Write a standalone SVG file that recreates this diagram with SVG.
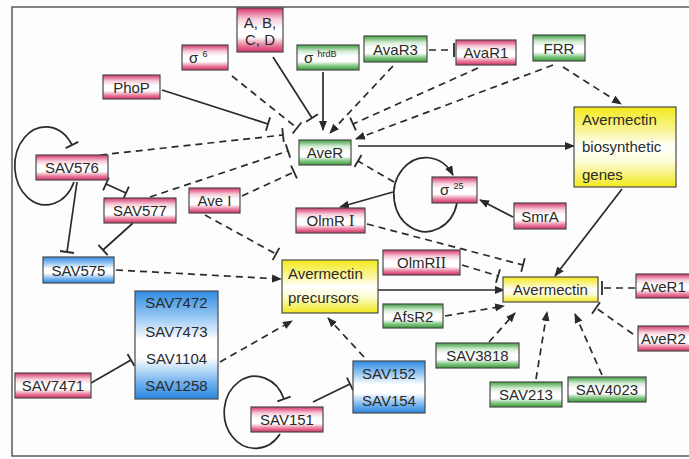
<svg xmlns="http://www.w3.org/2000/svg" width="689" height="459" viewBox="0 0 689 459">
  <defs>
    <linearGradient id="gR" x1="0" y1="0" x2="0" y2="1">
      <stop offset="0" stop-color="#d6336a"/>
      <stop offset="0.25" stop-color="#f6cdd9"/>
      <stop offset="0.45" stop-color="#ffffff"/>
      <stop offset="0.66" stop-color="#ffffff"/>
      <stop offset="0.84" stop-color="#e8829f"/>
      <stop offset="1" stop-color="#d22d63"/>
    </linearGradient>
    <linearGradient id="gG" x1="0" y1="0" x2="0" y2="1">
      <stop offset="0" stop-color="#3f9f3f"/>
      <stop offset="0.25" stop-color="#d3ebd3"/>
      <stop offset="0.45" stop-color="#ffffff"/>
      <stop offset="0.66" stop-color="#ffffff"/>
      <stop offset="0.84" stop-color="#80c580"/>
      <stop offset="1" stop-color="#379a37"/>
    </linearGradient>
    <linearGradient id="gB" x1="0" y1="0" x2="0" y2="1">
      <stop offset="0" stop-color="#2d8ae2"/>
      <stop offset="0.25" stop-color="#9ccaf3"/>
      <stop offset="0.45" stop-color="#ffffff"/>
      <stop offset="0.62" stop-color="#ffffff"/>
      <stop offset="0.85" stop-color="#6fb1ee"/>
      <stop offset="1" stop-color="#2a86df"/>
    </linearGradient>
    <linearGradient id="gY" x1="0" y1="0" x2="0" y2="1">
      <stop offset="0" stop-color="#f3ea1a"/>
      <stop offset="0.3" stop-color="#faf59a"/>
      <stop offset="0.5" stop-color="#ffffff"/>
      <stop offset="0.7" stop-color="#fdfbd0"/>
      <stop offset="1" stop-color="#f1e81c"/>
    </linearGradient>
    <marker id="arrow" markerUnits="userSpaceOnUse" markerWidth="10" markerHeight="10" viewBox="0 0 10 10" refX="9" refY="5" orient="auto">
      <path d="M0,1 L10,5 L0,9 z" fill="#2a2a2a"/>
    </marker>
    <marker id="bar" markerUnits="userSpaceOnUse" markerWidth="4" markerHeight="16" viewBox="-2 -8 4 16" refX="0" refY="0" orient="auto">
      <path d="M0,-7 L0,7" stroke="#2a2a2a" stroke-width="1.8" fill="none"/>
    </marker>
    <style>
      .box { stroke: #4a4a4a; stroke-width: 1.2; }
      .r { fill: url(#gR); }
      .g { fill: url(#gG); }
      .b { fill: url(#gB); }
      .y { fill: url(#gY); }
      text { font-family: "Liberation Sans", Arial, sans-serif; font-size: 15px; fill: #2a2a2a; }
      .c { text-anchor: middle; }
      .sup { font-size: 9px; }
      .rn { font-family: "Liberation Serif", "Times New Roman", serif; font-size: 16px; }
      .ln { fill: none; stroke: #2a2a2a; stroke-width: 1.7; }
      .d { stroke-dasharray: 7 5; }
      .act { marker-end: url(#arrow); }
      .inh { marker-end: url(#bar); }
    </style>
  </defs>

  <rect x="0" y="0" width="689" height="459" fill="#fdfdfd"/>
  <!-- outer frame -->
  <rect x="12" y="7" width="700" height="449" fill="none" stroke="#5a5a5a" stroke-width="1.5"/>

  <!-- connectors -->
  <g id="connectors">
    <!-- regulators of AveR -->
    <line class="ln inh" x1="162" y1="90" x2="268" y2="124"/>
    <line class="ln d inh" x1="232" y1="76" x2="297" y2="128"/>
    <line class="ln inh" x1="273" y1="57" x2="312" y2="118"/>
    <line class="ln act" x1="323" y1="72" x2="323" y2="130"/>
    <line class="ln d act" x1="393" y1="66" x2="330" y2="133"/>
    <line class="ln d inh" x1="429" y1="50" x2="454" y2="50"/>
    <line class="ln d inh" x1="478" y1="68" x2="353" y2="124"/>
    <line class="ln d act" x1="553" y1="65" x2="356" y2="139"/>
    <line class="ln d act" x1="563" y1="67" x2="621" y2="104"/>
    <line class="ln d inh" x1="100" y1="155" x2="283" y2="135"/>
    <line class="ln d inh" x1="150" y1="197" x2="288" y2="151"/>
    <line class="ln d inh" x1="242" y1="196" x2="294" y2="172"/>
    <line class="ln act" x1="358" y1="146" x2="574" y2="146"/>

    <!-- sigma 25 loop and targets -->
    <path class="ln act" d="M457,203 A32 37 0 1 1 453,175"/>
    <line class="ln d inh" x1="394" y1="182" x2="358" y2="161"/>
    <line class="ln act" x1="393" y1="192" x2="340" y2="207"/>
    <line class="ln act" x1="513" y1="217" x2="480" y2="200"/>

    <!-- regulators of avermectin -->
    <line class="ln d inh" x1="367" y1="224" x2="523" y2="265"/>
    <line class="ln d inh" x1="462" y1="265" x2="498" y2="276"/>
    <line class="ln act" x1="622" y1="189" x2="555" y2="276"/>
    <line class="ln act" x1="378" y1="290" x2="504" y2="290"/>
    <line class="ln d act" x1="445" y1="316" x2="504" y2="306"/>
    <line class="ln d act" x1="489" y1="342" x2="515" y2="313"/>
    <line class="ln d act" x1="536" y1="379" x2="547" y2="312"/>
    <line class="ln d act" x1="602" y1="375" x2="575" y2="314"/>
    <line class="ln d inh" x1="633" y1="334" x2="596" y2="308"/>
    <line class="ln d inh" x1="635" y1="288" x2="602" y2="288"/>

    <!-- SAV576 / SAV577 / SAV575 module -->
    <path class="ln inh" d="M74,182 A31 39 0 1 1 72,145"/>
    <line class="ln" x1="106" y1="184" x2="126" y2="193" marker-start="url(#bar)" marker-end="url(#bar)"/>
    <line class="ln inh" x1="77" y1="182" x2="67" y2="252"/>
    <line class="ln inh" x1="133" y1="223" x2="103" y2="250"/>

    <!-- precursor regulators -->
    <line class="ln d act" x1="116" y1="270" x2="281" y2="279"/>
    <line class="ln d inh" x1="205" y1="215" x2="276" y2="254"/>
    <line class="ln inh" x1="91" y1="383" x2="131" y2="360"/>
    <line class="ln d act" x1="220" y1="362" x2="292" y2="321"/>
    <line class="ln d act" x1="364" y1="357" x2="328" y2="318"/>
    <line class="ln inh" x1="313" y1="402" x2="350" y2="384"/>
    <path class="ln inh" d="M280,434 A31 36 0 1 1 284,399"/>
  </g>

  <!-- nodes -->
  <g id="ABCD"><rect class="box r" x="237" y="8" width="46" height="44"/><text class="c" x="260" y="28">A, B,</text><text class="c" x="260" y="45">C, D</text></g>
  <g id="sigma6"><rect class="box r" x="182" y="45" width="46" height="25"/><text x="189" y="63">σ <tspan class="sup" dy="-6">6</tspan></text></g>
  <g id="PhoP"><rect class="box r" x="103" y="75" width="57" height="24"/><text class="c" x="131.5" y="92.5">PhoP</text></g>
  <g id="sigmaHrdB"><rect class="box g" x="297" y="45" width="62" height="25"/><text x="304" y="63">σ <tspan class="sup" dy="-6">hrdB</tspan></text></g>
  <g id="AvaR3"><rect class="box g" x="364" y="36" width="63" height="26"/><text class="c" x="395.5" y="54.5">AvaR3</text></g>
  <g id="AvaR1"><rect class="box r" x="456" y="40" width="60" height="25"/><text class="c" x="486" y="58">AvaR1</text></g>
  <g id="FRR"><rect class="box g" x="533" y="35" width="52" height="26"/><text class="c" x="559" y="53.5">FRR</text></g>
  <g id="AveR"><rect class="box g" x="299" y="140" width="52" height="25"/><text class="c" x="325" y="158">AveR</text></g>
  <g id="biosyntheticGenes"><rect class="box y" x="574" y="107" width="102" height="80"/><text x="582" y="125">Avermectin</text><text x="582" y="152">biosynthetic</text><text x="582" y="180">genes</text></g>
  <g id="SAV576"><rect class="box r" x="36" y="155" width="72" height="25"/><text class="c" x="72" y="173">SAV576</text></g>
  <g id="SAV577"><rect class="box r" x="104" y="198" width="72" height="25"/><text class="c" x="140" y="216">SAV577</text></g>
  <g id="AveI"><rect class="box r" x="189" y="188" width="51" height="25"/><text class="c" x="214.5" y="206">Ave I</text></g>
  <g id="sigma25"><rect class="box r" x="432" y="177" width="45" height="26"/><text x="440" y="195">σ <tspan class="sup" dy="-6">25</tspan></text></g>
  <g id="SmrA"><rect class="box r" x="514" y="203" width="52" height="26"/><text class="c" x="540" y="221.5">SmrA</text></g>
  <g id="OlmRI"><rect class="box r" x="296" y="208" width="69" height="25"/><text class="c" x="330.5" y="226">OlmR <tspan class="rn">I</tspan></text></g>
  <g id="OlmRII"><rect class="box r" x="383" y="250" width="77" height="25"/><text class="c" x="421.5" y="268">OlmR<tspan class="rn">II</tspan></text></g>
  <g id="SAV575"><rect class="box b" x="43" y="257" width="71" height="26"/><text class="c" x="78.5" y="275.5">SAV575</text></g>
  <g id="precursors"><rect class="box y" x="282" y="260" width="96" height="53"/><text x="288" y="279">Avermectin</text><text x="288" y="303">precursors</text></g>
  <g id="Avermectin"><rect class="box y" x="503" y="277" width="95" height="25"/><text class="c" x="550.5" y="295">Avermectin</text></g>
  <g id="AfsR2"><rect class="box g" x="383" y="304" width="60" height="24"/><text class="c" x="413" y="321.5">AfsR2</text></g>
  <g id="AveR1"><rect class="box r" x="636" y="274" width="60" height="24"/><text x="641" y="291.5">AveR1</text></g>
  <g id="AveR2"><rect class="box r" x="638" y="326" width="60" height="25"/><text x="641" y="344">AveR2</text></g>
  <g id="SAV3818"><rect class="box g" x="436" y="343" width="83" height="25"/><text class="c" x="477.5" y="361">SAV3818</text></g>
  <g id="SAV213"><rect class="box g" x="490" y="382" width="72" height="25"/><text class="c" x="526" y="400">SAV213</text></g>
  <g id="SAV4023"><rect class="box g" x="568" y="377" width="78" height="25"/><text class="c" x="607" y="395">SAV4023</text></g>
  <g id="SAV7472cluster"><rect class="box b" x="135" y="291" width="83" height="108"/><text class="c" x="176.5" y="308">SAV7472</text><text class="c" x="176.5" y="337">SAV7473</text><text class="c" x="176.5" y="364">SAV1104</text><text class="c" x="176.5" y="391">SAV1258</text></g>
  <g id="SAV7471"><rect class="box r" x="15" y="373" width="76" height="25"/><text class="c" x="53" y="391">SAV7471</text></g>
  <g id="SAV152cluster"><rect class="box b" x="353" y="361" width="72" height="52"/><text class="c" x="389" y="379">SAV152</text><text class="c" x="389" y="406">SAV154</text></g>
  <g id="SAV151"><rect class="box r" x="251" y="407" width="72" height="25"/><text class="c" x="287" y="425">SAV151</text></g>
</svg>
